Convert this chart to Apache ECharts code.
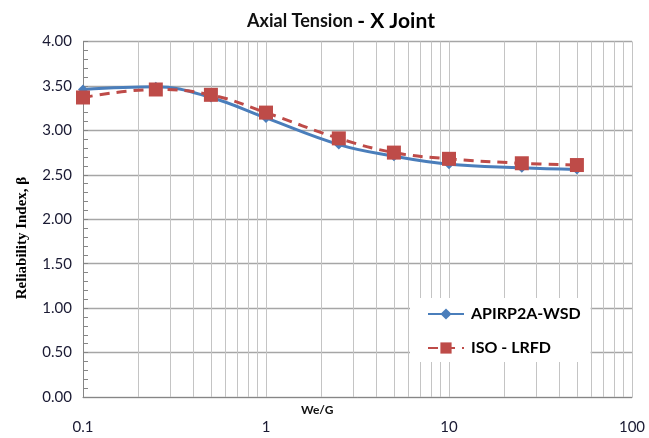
<!DOCTYPE html>
<html><head><meta charset="utf-8">
<script src="https://cdn.jsdelivr.net/npm/echarts@6/dist/echarts.min.js"></script>
<style>html,body{margin:0;padding:0;background:#fff}#c{width:649px;height:438px}</style>
</head><body><div id="c"></div>
<script>
const xValues = [0.1, 0.25, 0.5, 1, 2.5, 5, 10, 25, 50];
const apiWsd = [3.46, 3.49, 3.37, 3.14, 2.84, 2.71, 2.62, 2.58, 2.56];
const isoLrfd = [3.37, 3.46, 3.40, 3.20, 2.91, 2.75, 2.68, 2.63, 2.61];
const seriesNames = ['APIRP2A-WSD', 'ISO - LRFD'];
const minorGridX = [0.2,0.3,0.4,0.5,0.6,0.7,0.8,0.9,2,3,4,5,6,7,8,9,20,30,40,50,60,70,80,90];
const yTicks = ['0.00','0.50','1.00','1.50','2.00','2.50','3.00','3.50','4.00'];

const chart = echarts.init(document.getElementById('c'), null, {renderer:'canvas'});
chart.setOption({
  animation:false,
  backgroundColor:'#fff',
  title:{
    text:'{a|Axial Tension }{b|- X Joint}',
    left:336, top:6, textAlign:'center',
    textStyle:{rich:{
      a:{fontFamily:'Lato', fontSize:18, fontWeight:'bold', color:'#111'},
      b:{fontFamily:'Lato', fontSize:21, fontWeight:'bold', color:'#000'}
    }}
  },
  grid:{left:83, right:17, top:41.5, bottom:41, containLabel:false},
  legend:{
    orient:'vertical', left:410, top:298, z:10,
    backgroundColor:'#fff', padding:[8,10,6,17], itemGap:18,
    itemWidth:36, itemHeight:14,
    textStyle:{fontFamily:'Lato', fontSize:16, fontWeight:'bold', color:'#000', padding:[0,0,0,2]},
    data:seriesNames
  },
  graphic:[
    {type:'text', left:301, top:404, style:{text:'We/G', font:'bold 12px Lato', fill:'#111'}},
    {type:'text', x:22, y:238, rotation:Math.PI/2,
     style:{text:'Reliability Index, β', font:'bold 15px "Liberation Serif"', fill:'#000', align:'center', verticalAlign:'middle'}}
  ],
  xAxis:{
    type:'log', logBase:10, min:0.1, max:100,
    axisLine:{show:true, onZero:false, lineStyle:{color:'#868686', width:1}},
    axisTick:{show:false},
    axisLabel:{margin:23, fontFamily:'Lato', fontSize:15, color:'#1a1a33',
      formatter:v=>String(+v.toPrecision(3))},
    splitLine:{show:true, lineStyle:{color:'#c4c4c4', width:1}}
  },
  yAxis:{
    type:'value', min:0, max:4, interval:0.5,
    axisLine:{show:true, lineStyle:{color:'#868686', width:1}},
    axisTick:{show:true, inside:true, length:5, lineStyle:{color:'#868686'}},
    minorTick:{show:true, splitNumber:5, length:5, lineStyle:{color:'#868686'}},
    axisLabel:{margin:11, fontFamily:'Lato', fontSize:15, color:'#1a1a33',
      formatter:(v)=>yTicks[Math.round(v/0.5)]},
    splitLine:{show:true, lineStyle:{color:'#a6a6a6', width:1.3}}
  },
  series:[
    {type:'line', name:'_grid', data:[], z:1, silent:true,
     markLine:{z:1, silent:true, symbol:'none', label:{show:false},
       lineStyle:{color:'#c4c4c4', width:1, type:'solid'},
       emphasis:{disabled:true},
       data:minorGridX.map(v=>({xAxis:v}))}},
    {type:'line', name:seriesNames[0], data:xValues.map((x,i)=>[x, apiWsd[i]]),
     smooth:0.4, symbol:'diamond', symbolSize:10, showSymbol:true, z:3,
     itemStyle:{color:'#4a7ebb'}, lineStyle:{color:'#4a7ebb', width:3}},
    {type:'line', name:seriesNames[1], data:xValues.map((x,i)=>[x, isoLrfd[i]]),
     smooth:0.4, symbol:'rect', symbolSize:14, showSymbol:true, z:4,
     itemStyle:{color:'#be4b48'}, lineStyle:{color:'#be4b48', width:3, type:[10,7]}}
  ]
});
</script></body></html>
